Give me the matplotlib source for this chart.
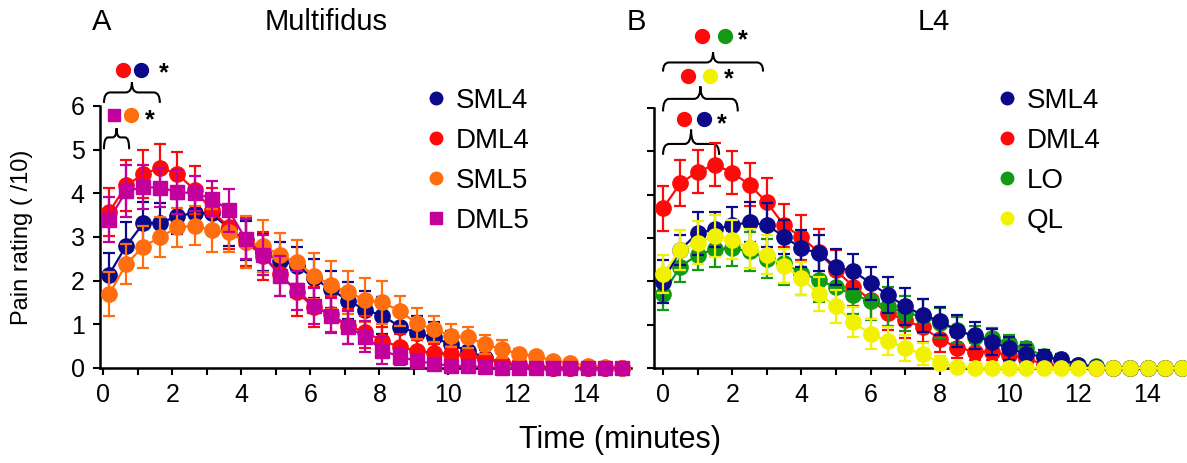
import numpy as np
import matplotlib
matplotlib.use("Agg")
import matplotlib.pyplot as plt
from matplotlib.lines import Line2D
from matplotlib.path import Path
from matplotlib.patches import PathPatch

plt.rcParams["font.family"] = ["Liberation Sans", "DejaVu Sans"]

# ---- data (pain rating /10, mean +/- error) ----
T_A = np.round(0.17 + 0.495 * np.arange(31), 3)   # multifidus sample times (min)
T_B = np.arange(0, 15.5, 0.5)                      # L4 sample times (min)

A_LABELS = ["SML4", "DML4", "SML5", "DML5"]
A_SML4 = [2.14, 2.80, 3.31, 3.33, 3.47, 3.56, 3.54, 3.20, 2.92, 2.65, 2.46, 2.34, 2.05, 1.80, 1.54, 1.33,
          1.20, 0.95, 0.80, 0.70, 0.54, 0.39, 0.24, 0.12, 0.05, 0.02, 0, 0, 0, 0, 0]
A_SML4_ERR = [0.50, 0.54, 0.50, 0.45, 0.40, 0.40, 0.40, 0.40, 0.44, 0.43, 0.42, 0.42, 0.45, 0.43, 0.42, 0.44,
              0.42, 0.40, 0.40, 0.35, 0.30, 0.25, 0.18, 0.12, 0.06, 0.03, 0, 0, 0, 0, 0]
A_DML4 = [3.57, 4.18, 4.44, 4.59, 4.44, 4.08, 3.62, 3.22, 2.88, 2.57, 2.16, 1.73, 1.39, 1.24, 0.96, 0.82,
          0.62, 0.49, 0.39, 0.35, 0.32, 0.28, 0.20, 0.12, 0.08, 0.03, 0, 0, 0, 0, 0]
A_DML4_ERR = [0.55, 0.58, 0.55, 0.54, 0.50, 0.55, 0.50, 0.50, 0.55, 0.55, 0.50, 0.55, 0.46, 0.42, 0.40, 0.36,
              0.32, 0.28, 0.24, 0.20, 0.18, 0.15, 0.12, 0.08, 0.05, 0.03, 0, 0, 0, 0, 0]
A_SML5 = [1.69, 2.38, 2.78, 3.00, 3.22, 3.26, 3.15, 3.11, 2.88, 2.80, 2.58, 2.42, 2.11, 1.90, 1.73, 1.56,
          1.50, 1.31, 1.02, 0.89, 0.74, 0.70, 0.54, 0.43, 0.32, 0.28, 0.16, 0.12, 0.05, 0.02, 0]
A_SML5_ERR = [0.50, 0.46, 0.48, 0.45, 0.45, 0.45, 0.50, 0.45, 0.60, 0.60, 0.50, 0.50, 0.52, 0.54, 0.50, 0.50,
              0.50, 0.35, 0.35, 0.30, 0.27, 0.24, 0.22, 0.20, 0.12, 0.08, 0.05, 0.03, 0, 0, 0]
A_DML5 = [3.40, 4.05, 4.14, 4.13, 4.03, 4.00, 3.88, 3.61, 2.95, 2.59, 2.11, 1.78, 1.42, 1.20, 0.93, 0.72,
          0.40, 0.26, 0.16, 0.10, 0.05, 0.04, 0.02, 0, 0, 0, 0, 0, 0, 0, 0]
A_DML5_ERR = [0.52, 0.60, 0.50, 0.45, 0.50, 0.40, 0.40, 0.50, 0.46, 0.45, 0.45, 0.45, 0.42, 0.40, 0.38, 0.35,
              0.30, 0.20, 0.15, 0.10, 0.06, 0.04, 0.02, 0, 0, 0, 0, 0, 0, 0, 0]

B_LABELS = ["SML4", "DML4", "LO", "QL"]
B_SML4 = [1.99, 2.73, 3.11, 3.20, 3.30, 3.36, 3.30, 3.03, 2.76, 2.65, 2.33, 2.23, 1.96, 1.68, 1.42, 1.22,
          1.09, 0.86, 0.75, 0.60, 0.45, 0.32, 0.26, 0.20, 0.08, 0.03, 0, 0, 0, 0, 0]
B_SML4_ERR = [0.50, 0.35, 0.50, 0.40, 0.42, 0.46, 0.50, 0.39, 0.43, 0.42, 0.42, 0.41, 0.38, 0.42, 0.42, 0.38,
              0.32, 0.37, 0.31, 0.30, 0.27, 0.20, 0.15, 0.13, 0.06, 0.03, 0, 0, 0, 0, 0]
B_DML4 = [3.69, 4.26, 4.53, 4.69, 4.51, 4.23, 3.82, 3.29, 3.02, 2.67, 2.25, 1.88, 1.57, 1.27, 1.10, 0.94,
          0.67, 0.47, 0.38, 0.37, 0.30, 0.20, 0.10, 0.05, 0.02, 0, 0, 0, 0, 0, 0]
B_DML4_ERR = [0.52, 0.53, 0.50, 0.50, 0.50, 0.50, 0.56, 0.50, 0.52, 0.54, 0.47, 0.45, 0.45, 0.40, 0.40, 0.35,
              0.30, 0.25, 0.20, 0.18, 0.15, 0.12, 0.08, 0.05, 0.03, 0, 0, 0, 0, 0, 0]
B_LO = [1.71, 2.34, 2.61, 2.74, 2.76, 2.69, 2.52, 2.42, 2.19, 2.03, 1.86, 1.69, 1.55, 1.42, 1.26, 1.20,
        1.04, 0.88, 0.71, 0.70, 0.57, 0.45, 0.28, 0.18, 0.07, 0.04, 0, 0, 0, 0, 0]
B_LO_ERR = [0.37, 0.35, 0.35, 0.40, 0.40, 0.45, 0.45, 0.50, 0.50, 0.50, 0.45, 0.45, 0.45, 0.45, 0.40, 0.40,
            0.35, 0.30, 0.25, 0.22, 0.20, 0.15, 0.12, 0.08, 0.05, 0.03, 0, 0, 0, 0, 0]
B_QL = [2.17, 2.73, 2.89, 3.05, 2.96, 2.76, 2.61, 2.35, 2.07, 1.71, 1.42, 1.06, 0.78, 0.62, 0.46, 0.32,
        0.12, 0.03, 0, 0, 0, 0, 0, 0, 0, 0, 0, 0, 0, 0, 0]
B_QL_ERR = [0.43, 0.46, 0.50, 0.48, 0.45, 0.45, 0.45, 0.40, 0.38, 0.40, 0.38, 0.35, 0.35, 0.33, 0.30, 0.25,
            0.15, 0.05, 0, 0, 0, 0, 0, 0, 0, 0, 0, 0, 0, 0, 0]

NAVY, RED, ORANGE, MAGENTA = "#0a0a8a", "#ff0a0a", "#ff6e0e", "#c4009c"
GREEN, YELLOW = "#139a13", "#f2f200"


def series(ax, t, y, err, color, marker, ms, z):
    cont = ax.errorbar(t, y, yerr=err, fmt="-" + marker, color=color, ms=ms, lw=1.6,
                       elinewidth=1.6, capsize=4, capthick=1.6, zorder=z)
    for art in cont.get_children():
        art.set_clip_on(False)


def brace(ax, x0, x1, yb, ym, yt, w=0.18):
    xm = (x0 + x1) / 2
    verts = [(x0, yb), (x0, ym), (x0 + w, ym), (xm - w, ym), (xm, ym), (xm, yt),
             (xm, ym), (xm + w, ym), (x1 - w, ym), (x1, ym), (x1, yb)]
    codes = [Path.MOVETO, Path.CURVE3, Path.CURVE3, Path.LINETO, Path.CURVE3, Path.CURVE3,
             Path.CURVE3, Path.CURVE3, Path.LINETO, Path.CURVE3, Path.CURVE3]
    ax.add_patch(PathPatch(Path(verts, codes), fill=False, lw=1.5, color="black", clip_on=False))


def sig(ax, xs, y, colors, markers, xstar, ystar):
    for x, c, m in zip(xs, colors, markers):
        ax.plot([x], [y], m, color=c, ms=10 if m == "o" else 9, clip_on=False)
    ax.text(xstar, ystar, "*", fontsize=18, ha="center", va="center", fontweight="bold")


def style(ax, xmax, xmin):
    for s in ("top", "right"):
        ax.spines[s].set_visible(False)
    for s in ("left", "bottom"):
        ax.spines[s].set_linewidth(1.8)
    ax.spines["left"].set_bounds(0, 6)
    ax.set_ylim(0, 6)
    ax.set_xlim(xmin, xmax)
    ax.set_yticks(range(7))
    ax.set_xticks(range(0, 15, 2))
    ax.set_xticks(range(0, 16), minor=True)
    ax.tick_params(which="both", direction="out", length=5, width=1.5, labelsize=18, pad=6)


def legend(ax, handles, labels, left_px):
    ax.legend(handles, labels, loc="upper left", bbox_to_anchor=(left_px / 1187, 1 - 88 / 463),
              bbox_transform=fig.transFigure, frameon=False, fontsize=20, handlelength=0.8,
              handletextpad=0.3, borderpad=0, borderaxespad=0, labelspacing=0.5)


fig = plt.figure(figsize=(11.87, 4.63), dpi=100)
axA = fig.add_axes([0.0842, 0.2052, 0.4474, 0.5659])
axB = fig.add_axes([0.551, 0.2052, 0.449, 0.5616])

# panel A
series(axA, T_A, A_SML4, A_SML4_ERR, NAVY, "o", 11, 3)
series(axA, T_A, A_DML4, A_DML4_ERR, RED, "o", 11, 4)
series(axA, T_A, A_SML5, A_SML5_ERR, ORANGE, "o", 11, 5)
series(axA, T_A, A_DML5, A_DML5_ERR, MAGENTA, "s", 10, 6)
style(axA, 15.29, -0.096)

brace(axA, 0.02, 1.64, 6.07, 6.31, 6.54)
sig(axA, [0.58, 1.08], 6.83, [RED, NAVY], ["o", "o"], 1.74, 6.74)
brace(axA, 0.02, 0.75, 5.01, 5.28, 5.49, w=0.12)
sig(axA, [0.31, 0.80], 5.79, [MAGENTA, ORANGE], ["s", "o"], 1.35, 5.68)

hA = [Line2D([], [], ls="none", marker=m, color=c, ms=ms) for c, m, ms in
      [(NAVY, "o", 9), (RED, "o", 9), (ORANGE, "o", 9), (MAGENTA, "s", 8)]]
legend(axA, hA, A_LABELS, 425)

# panel B
series(axB, T_B, B_DML4, B_DML4_ERR, RED, "o", 11, 3)
series(axB, T_B, B_LO, B_LO_ERR, GREEN, "o", 11, 4)
series(axB, T_B, B_SML4, B_SML4_ERR, NAVY, "o", 11, 5)
series(axB, T_B, B_QL, B_QL_ERR, YELLOW, "o", 11, 6)
style(axB, 15.14, -0.26)
axB.set_yticklabels([])

brace(axB, 0.0, 2.89, 6.84, 7.05, 7.29)
sig(axB, [1.12, 1.79], 7.65, [RED, GREEN], ["o", "o"], 2.31, 7.55)
brace(axB, 0.0, 2.16, 5.92, 6.21, 6.50)
sig(axB, [0.73, 1.36], 6.74, [RED, YELLOW], ["o", "o"], 1.89, 6.65)
brace(axB, 0.0, 1.62, 4.92, 5.17, 5.50)
sig(axB, [0.62, 1.17], 5.74, [RED, NAVY], ["o", "o"], 1.70, 5.63)

hB = [Line2D([], [], ls="none", marker="o", color=c, ms=9) for c in (NAVY, RED, GREEN, YELLOW)]
legend(axB, hB, B_LABELS, 996)

# titles and axis labels
for x_px, s in [(102, "A"), (326, "Multifidus"), (636, "B"), (934, "L4")]:
    fig.text(x_px / 1187, 1 - 22 / 463, s, fontsize=21, ha="center", va="center")
fig.text(22 / 1187, 1 - 237 / 463, "Pain rating ( /10)", fontsize=17, rotation=90,
         ha="center", va="center")
fig.text(620 / 1187, 1 - 440 / 463, "Time (minutes)", fontsize=22, ha="center", va="center")

fig.savefig("out.png", dpi=100)
